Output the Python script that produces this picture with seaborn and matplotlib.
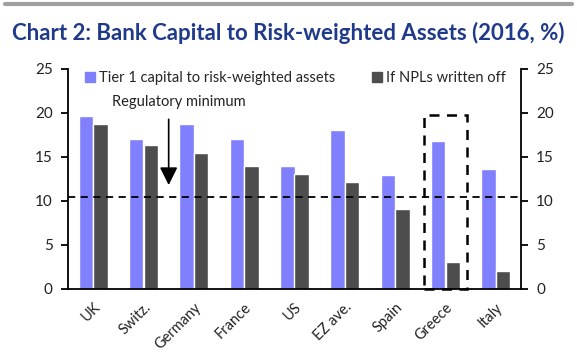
import matplotlib
matplotlib.use("Agg")
import matplotlib.pyplot as plt
import seaborn as sns
import pandas as pd
from matplotlib.patches import Rectangle
from matplotlib.lines import Line2D

countries = ["UK", "Switz.", "Germany", "France", "US", "EZ ave.", "Spain", "Greece", "Italy"]
tier1 = [19.7, 17.1, 18.8, 17.1, 14.0, 18.1, 12.9, 16.8, 13.6]
npl_written_off = [18.8, 16.4, 15.5, 14.0, 13.1, 12.2, 9.1, 3.1, 2.0]
series_names = ["Tier 1 capital to risk-weighted assets", "If NPLs written off"]
regulatory_min = 10.5
yticks = [0, 5, 10, 15, 20, 25]

sns.set_theme(style="white")
plt.rcParams["font.family"] = ["Lato", "DejaVu Sans"]

df = pd.DataFrame({
    "country": countries * 2,
    "value": tier1 + npl_written_off,
    "series": [series_names[0]] * len(countries) + [series_names[1]] * len(countries),
})

colors = ["#8080FF", "#4D4D4D"]

fig = plt.figure(figsize=(5.77, 3.58), dpi=100)
fig.patch.set_facecolor("white")
ax = fig.add_axes([68/577, 1-289/358, (521-68)/577, (289-69)/358])

sns.barplot(data=df, x="country", y="value", hue="series", palette=colors,
            width=0.58, saturation=1, ax=ax, legend=False)

ax.set_xlim(-0.5, len(countries) - 0.5)
ax.set_ylim(0, 25)
ax.set_yticks(yticks)
ax.set_xlabel("")
ax.set_ylabel("")
for s in ["left", "right", "bottom"]:
    ax.spines[s].set_visible(True)
    ax.spines[s].set_color("black")
    ax.spines[s].set_linewidth(1.3)
ax.spines["top"].set_visible(False)

ax.tick_params(axis="y", which="both", left=True, right=True, labelleft=True,
               labelright=True, direction="out", length=5, width=1.3,
               labelsize=11, colors="black", pad=6)
ax.tick_params(axis="x", bottom=False, labelsize=10.5, pad=2)
for lab in ax.get_yticklabels():
    lab.set_color("#222222")
plt.setp(ax.get_xticklabels(), rotation=45, ha="right", rotation_mode="anchor",
         color="#222222")

ax.axhline(regulatory_min, color="black", linestyle=(0, (4, 3)), linewidth=1.3)

gi = countries.index("Greece")
ax.add_patch(Rectangle((gi - 0.43, 0), 0.86, 19.8, fill=False, edgecolor="black",
                       linestyle=(0, (4, 3)), linewidth=1.8, clip_on=False))

ax.annotate("", xy=(1.5, 11.5), xytext=(1.5, 19.6),
            arrowprops=dict(arrowstyle="-|>,head_width=0.45,head_length=0.9",
                            color="black", lw=1.2))
ax.text(1.7, 21.2, "Regulatory minimum", ha="center", va="center", fontsize=10.5,
        color="#222222")

handles = [Line2D([], [], marker="s", linestyle="", markersize=7,
                  markerfacecolor=c, markeredgecolor=c) for c in colors]
ax.legend(handles, series_names, ncol=2, frameon=False, loc="upper center",
          bbox_to_anchor=(0.50, 1.05), fontsize=10.5, handletextpad=0.1,
          columnspacing=2.4, handlelength=1.0)

fig.add_artist(Line2D([5/577, 572/577], [1-4/358, 1-4/358], color="#A0A0A0",
                      linewidth=3))
fig.text(12/577, 1-33/358, "Chart 2: Bank Capital to Risk-weighted Assets (2016, %)",
         fontsize=16, fontweight="bold", color="#1F3A8A", ha="left", va="center")

fig.savefig("out.png", dpi=100)
